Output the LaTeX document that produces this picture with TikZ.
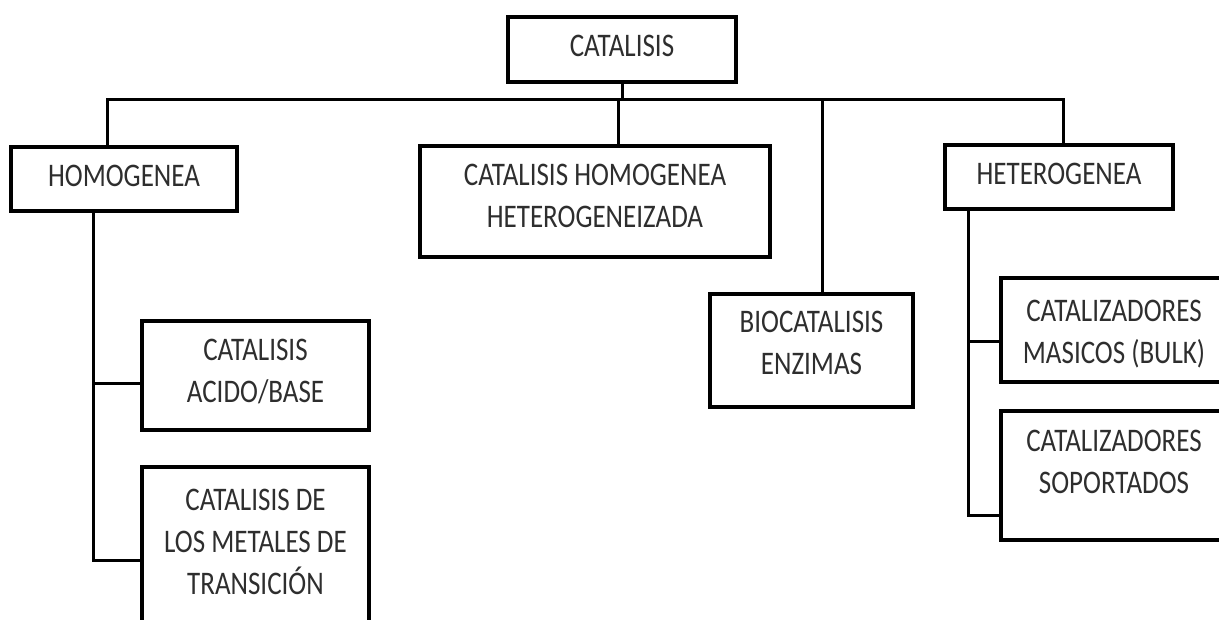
\documentclass[tikz,border=0pt]{standalone}
\usepackage{fontspec}
\setmainfont{Carlito}
\begin{document}
\begin{tikzpicture}[x=1pt, y=-1pt,
  box/.style={draw, line width=4pt, inner sep=0pt, fill=white},
  txt/.style={font=\fontsize{27}{34.5}\selectfont, align=center, inner sep=0pt,
              text=black!82, anchor=north, yscale=1.22},
  link/.style={line width=3pt}]
\useasboundingbox (0,0) rectangle (1219,620);
\clip (0,0) rectangle (1219,620);

% boxes
\node[box, minimum width=228, minimum height=65,
  label={[yshift=-20pt, txt]north:CATALISIS}] (cat) at (622,49.5) {};
\node[box, minimum width=226, minimum height=64,
  label={[yshift=-20pt, txt]north:HOMOGENEA}] (homo) at (124,179) {};
\node[box, minimum width=350, minimum height=111,
  label={[yshift=-20pt, txt]north:CATALISIS HOMOGENEA\\HETEROGENEIZADA}] (chh) at (595,201.5) {};
\node[box, minimum width=203, minimum height=113,
  label={[yshift=-19pt, txt]north:BIOCATALISIS\\ENZIMAS}] (bio) at (811.5,350.5) {};
\node[box, minimum width=228, minimum height=64,
  label={[yshift=-20pt, txt]north:HETEROGENEA}] (hete) at (1059,177) {};
\node[box, minimum width=227, minimum height=109,
  label={[yshift=-20pt, txt]north:CATALISIS\\ACIDO/BASE}] (acid) at (255.5,375.5) {};
\node[box, minimum width=227, minimum height=181,
  label={[yshift=-24pt, txt]north:CATALISIS DE\\LOS METALES DE\\TRANSICIÓN}] (tran) at (255.5,557.5) {};
\node[box, minimum width=226, minimum height=104,
  label={[yshift=-24pt, txt]north:CATALIZADORES\\MASICOS (BULK)}] (masi) at (1114,330) {};
\node[box, minimum width=226, minimum height=129,
  label={[yshift=-21pt, txt]north:CATALIZADORES\\SOPORTADOS}] (sopo) at (1114,475.5) {};

% attachment points
\coordinate (busL) at (107,100);
\coordinate (busR) at (1063,100);
\coordinate (chhT) at ([xshift=23pt]chh.north);
\coordinate (bioT) at ([xshift=10.5pt]bio.north);
\coordinate (homoB) at ([xshift=-31pt]homo.south);
\coordinate (acidW) at ([yshift=-8.5pt]acid.west);
\coordinate (tranW) at ([yshift=-2.5pt]tran.west);
\coordinate (heteB) at ([xshift=-91pt]hete.south);
\coordinate (masiW) at ([yshift=-12pt]masi.west);
\coordinate (sopoW) at ([yshift=-39.5pt]sopo.west);

% connectors
\draw[link] (cat.south) -- (cat.south |- busL);
\draw[link] (homo.north -| busL) -- (busL) -- (busR) -- (busR |- hete.north);
\draw[link] (chhT) -- (chhT |- busL);
\draw[link] (bioT) -- (bioT |- busL);
\draw[link] (homoB) |- (tranW);
\draw[link] (homoB |- acidW) -- (acidW);
\draw[link] (heteB) |- (sopoW);
\draw[link] (heteB |- masiW) -- (masiW);
\end{tikzpicture}
\end{document}
